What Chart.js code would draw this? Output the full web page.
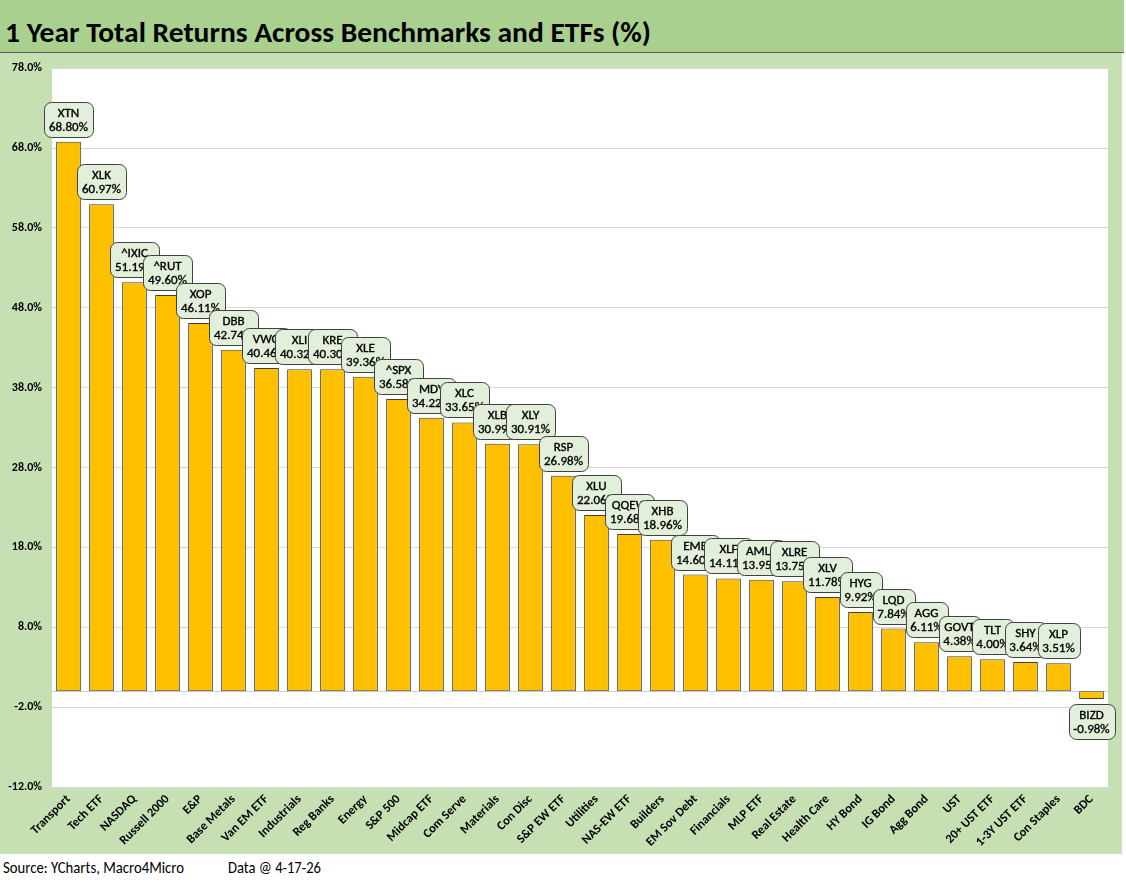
<!DOCTYPE html>
<html>
<head>
<meta charset="utf-8">
<script src="https://cdn.jsdelivr.net/npm/chart.js@4.4.1/dist/chart.umd.min.js"></script>
<style>
  html, body { margin:0; padding:0; background:#ffffff; width:1126px; height:886px; overflow:hidden; font-family: Carlito, Lato, 'Open Sans', sans-serif; }
  #titleBar { position:absolute; left:0; top:0; width:1124px; height:52px; background:#a9d08e; border-bottom:1px solid #595959; }
  #title { position:absolute; left:5px; top:19px; font-weight:bold; font-size:28px; line-height:28px; color:#000; white-space:nowrap; transform-origin:0 0; }
  #greenBox { position:absolute; left:0; top:53px; width:1122px; height:801px; background:#c6e0b4; }
  #chartBox { position:absolute; left:0; top:51px; width:1122px; height:803px; }
  .foot { position:absolute; top:858px; font-size:17px; line-height:19px; color:#000; white-space:nowrap; transform-origin:0 0; }
</style>
</head>
<body>
<div id="titleBar"><div id="title">1 Year Total Returns Across Benchmarks and ETFs (%)</div></div>
<div id="greenBox"></div>
<div id="chartBox"><canvas id="c"></canvas></div>
<div class="foot" id="src" style="left:3px;">Source: YCharts, Macro4Micro</div>
<div class="foot" id="dt" style="left:228px;">Data @ 4-17-26</div>
<script>
// ---- Data ----
const categories = ["Transport","Tech ETF","NASDAQ","Russell 2000","E&P","Base Metals","Van EM ETF","Industrials","Reg Banks","Energy","S&P 500","Midcap ETF","Com Serve","Materials","Con Disc","S&P EW ETF","Utilities","NAS-EW ETF","Builders","EM Sov Debt","Financials","MLP ETF","Real Estate","Health Care","HY Bond","IG Bond","Agg Bond","UST","20+ UST ETF","1-3Y UST ETF","Con Staples","BDC"];
const tickers = ["XTN","XLK","^IXIC","^RUT","XOP","DBB","VWO","XLI","KRE","XLE","^SPX","MDY","XLC","XLB","XLY","RSP","XLU","QQEW","XHB","EMB","XLF","AMLP","XLRE","XLV","HYG","LQD","AGG","GOVT","TLT","SHY","XLP","BIZD"];
const returns = [68.80,60.97,51.19,49.60,46.11,42.74,40.46,40.32,40.30,39.36,36.58,34.22,33.65,30.99,30.91,26.98,22.06,19.68,18.96,14.60,14.11,13.95,13.75,11.78,9.92,7.84,6.11,4.38,4.00,3.64,3.51,-0.98];
const yTicks = [78,68,58,48,38,28,18,8,-2,-12];

// fit DOM texts to reference widths
function fitWidth(id, target){ const el=document.getElementById(id); const w=el.getBoundingClientRect().width; if(w>0) el.style.transform='scaleX('+(target/w)+')'; }

const FONT = "Carlito, Lato, 'Open Sans', sans-serif";

const bgPlugin = {
  id:'bg',
  beforeDraw(chart){
    const {ctx, chartArea:a} = chart;
    ctx.save();
    ctx.fillStyle = '#ffffff';
    ctx.fillRect(a.left, a.top, a.right-a.left, a.bottom-a.top);
    ctx.restore();
  },
  beforeDatasetsDraw(chart){
    const {ctx, chartArea:a, scales} = chart;
    const y0 = Math.round(scales.y.getPixelForValue(0)) + 0.5;
    ctx.save();
    ctx.strokeStyle = '#d0d0d0'; ctx.lineWidth = 1;
    ctx.beginPath(); ctx.moveTo(a.left, y0); ctx.lineTo(a.right, y0); ctx.stroke();
    ctx.restore();
  }
};

const boxPlugin = {
  id:'valueBoxes',
  afterDatasetsDraw(chart){
    const ctx = chart.ctx;
    const meta = chart.getDatasetMeta(0);
    ctx.save();
    ctx.font = '13px ' + FONT;
    ctx.textAlign = 'center';
    ctx.textBaseline = 'middle';
    meta.data.forEach((bar, i) => {
      const v = returns[i];
      const l1 = tickers[i];
      const l2 = v.toFixed(2) + '%';
      const w = Math.round(Math.max(ctx.measureText(l1).width, ctx.measureText(l2).width) + 10);
      const h = 35;
      const x = Math.round(bar.x - w/2) + 0.5;
      const y = Math.round(v >= 0 ? bar.y - 5 - h : bar.y + 5) + 0.5;
      ctx.beginPath();
      ctx.roundRect(x, y, w, h, 7);
      ctx.fillStyle = '#e2efda';
      ctx.fill();
      ctx.lineWidth = 1;
      ctx.strokeStyle = '#404040';
      ctx.stroke();
      ctx.fillStyle = '#000000';
      ctx.strokeStyle = '#000000';
      ctx.lineWidth = 0.35;
      ctx.fillText(l1, bar.x, y + 11.5);
      ctx.strokeText(l1, bar.x, y + 11.5);
      ctx.fillText(l2, bar.x, y + 25.5);
      ctx.strokeText(l2, bar.x, y + 25.5);
    });
    ctx.restore();
  }
};

new Chart(document.getElementById('c'), {
  type:'bar',
  data:{
    labels: categories,
    datasets:[{
      data: returns,
      backgroundColor:'#ffc000',
      borderColor:'#404040',
      borderWidth:1,
      borderSkipped:false,
      categoryPercentage:1.0,
      barPercentage:0.75
    }]
  },
  options:{
    responsive:true,
    maintainAspectRatio:false,
    animation:false,
    layout:{ padding:{ left:0, right:14, top:11, bottom:0 } },
    plugins:{ legend:{display:false}, tooltip:{enabled:false}, title:{display:false} },
    scales:{
      x:{
        grid:{ display:false, drawTicks:false },
        border:{ display:false },
        ticks:{
          autoSkip:false, minRotation:45, maxRotation:45, padding:5,
          color:'#000', font:{ family:FONT, size:12.5, weight:'bold' }
        },
        afterFit(scale){ scale.height = 67; }
      },
      y:{
        min:-12, max:78,
        grid:{ color:'#d9d9d9', lineWidth:1, drawTicks:false },
        border:{ display:false },
        ticks:{
          padding:10, color:'#000', font:{ family:FONT, size:12, weight:'bold' },
          callback:(v) => Number(v).toFixed(1) + '%'
        },
        afterBuildTicks(scale){ scale.ticks = yTicks.map(v => ({ value:v })); },
        afterFit(scale){ scale.width = 52; }
      }
    }
  },
  plugins:[bgPlugin, boxPlugin]
});

fitWidth('title', 646);
fitWidth('src', 181);
fitWidth('dt', 93);
</script>
</body>
</html>
